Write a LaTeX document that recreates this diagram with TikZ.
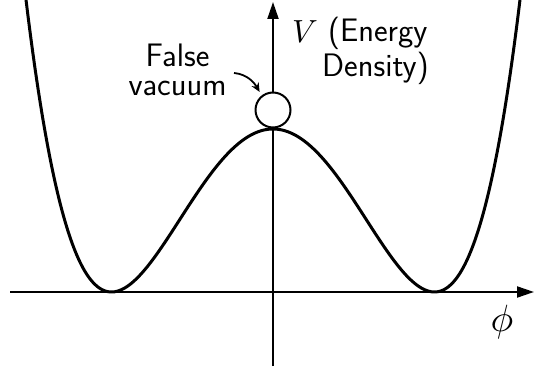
\documentclass[tikz,border=0pt]{standalone}
\usepackage{graphicx}
\usetikzlibrary{arrows.meta}
\begin{document}
\begin{tikzpicture}[x=1pt,y=1pt,
  axis/.style={line width=2pt,-{Triangle[length=17pt,width=11pt]}},
  wellcurve/.style={line width=3pt},
  lab/.style={font=\fontsize{32.5}{29}\selectfont\sffamily, inner sep=0pt, anchor=base},
  labw/.style={lab, anchor=base west},
  mathlab/.style={font=\normalsize, inner sep=0pt},
  ballstyle/.style={circle, draw, line width=2pt, minimum size=35pt, inner sep=0pt, fill=white},
  pointer/.style={line width=1.8pt, -{Stealth[length=9pt,width=8pt]}, shorten >=4pt}
]
\useasboundingbox (0,0) rectangle (534,366);
% axes
\coordinate (xl) at (10,74);
\coordinate (xr) at (534,74);
\coordinate (yb) at (273,0);
\coordinate (yt) at (273,364);
\draw[axis] (xl) -- (xr);
\draw[axis] (yb) -- (yt);
% double well potential
\draw[wellcurve] plot[domain=-248:248, samples=200, smooth]
  ({273+\x}, {74 + 163*(1-(\x/161.5)^2)^2});
% ball at false vacuum
\node[ballstyle] (ball) at (273,256) {};
% labels
\node[lab, align=center, anchor=south] (fv) at (177.5,270) {False\\vacuum};
\coordinate (fvtail) at (234,293);
\draw[pointer] (fvtail) to[out=-5, in=120] (ball.128);
\node[mathlab, anchor=base west] (V) at (292,323) {\scalebox{3.2}{$V$}};
\node[labw] (en) at (328,324) {(Energy};
\node[labw] (den) at (322,289) {Density)};
\node[mathlab] (phi) at (502,44) {\scalebox{3.8}{$\phi$}};
\end{tikzpicture}
\end{document}
